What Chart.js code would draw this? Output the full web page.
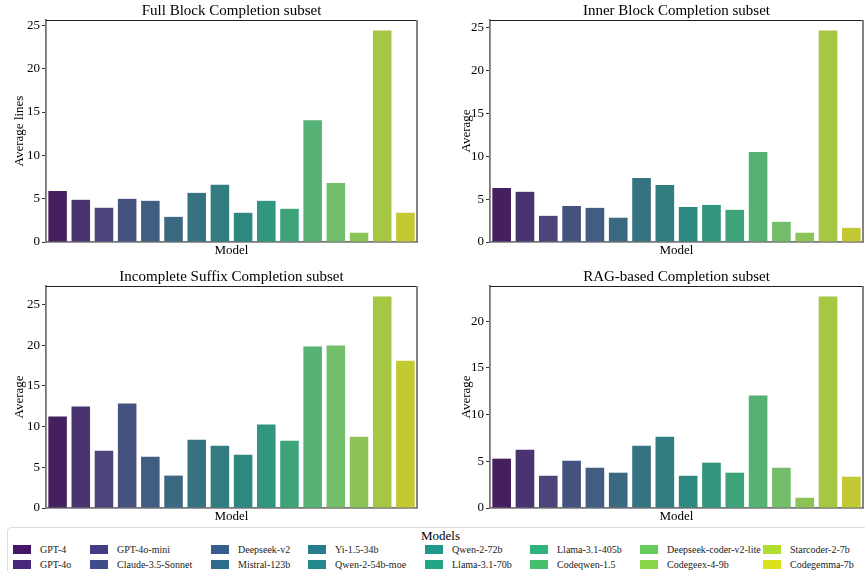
<!DOCTYPE html>
<html>
<head>
<meta charset="utf-8">
<script src="https://cdn.jsdelivr.net/npm/chart.js@4"></script>
<style>
  body { margin: 0; background: #fff; width: 865px; height: 571px; overflow: hidden; position: relative; font-family: 'Liberation Serif', 'Times New Roman', serif; }
  canvas { position: absolute; }
  #legend { position: absolute; left: 7px; top: 527px; width: 870px; height: 50px; border: 1px solid #ddd; border-radius: 4px; box-sizing: border-box; }
  #legend .ttl { position: absolute; left: 0; width: 865px; top: 0px; text-align: center; font-size: 13px; color: #000; }
  #legend .item { position: absolute; font-size: 10px; color: #222; white-space: nowrap; line-height: 12px; }
  #legend .sw { position: absolute; width: 18px; height: 9px; top: 1px; }
  #legend .lbl { position: absolute; left: 27px; top: 0; }
</style>
</head>
<body>
<canvas id="c1" width="430" height="258" style="left:0;top:0"></canvas>
<canvas id="c2" width="435" height="258" style="left:430px;top:0"></canvas>
<canvas id="c3" width="430" height="258" style="left:0;top:266px"></canvas>
<canvas id="c4" width="435" height="258" style="left:430px;top:266px"></canvas>
<div id="legend"><div class="ttl">Models</div></div>
<script>
// models, in plotting order
const models = ['GPT-4', 'GPT-4o', 'GPT-4o-mini', 'Claude-3.5-Sonnet', 'Deepseek-v2', 'Mistral-123b',
  'Yi-1.5-34b', 'Qwen-2-54b-moe', 'Qwen-2-72b', 'Llama-3.1-70b', 'Llama-3.1-405b', 'Codeqwen-1.5',
  'Deepseek-coder-v2-lite', 'Codegeex-4-9b', 'Starcoder-2-7b', 'Codegemma-7b'];

// average lines per subset
const fullBlock = [5.9, 4.87, 3.95, 4.98, 4.75, 2.9, 5.67, 6.6, 3.37, 4.75, 3.83, 14.05, 6.82, 1.07, 24.4, 3.37];
const innerBlock = [6.3, 5.85, 3.05, 4.2, 3.98, 2.83, 7.47, 6.66, 4.08, 4.32, 3.75, 10.5, 2.35, 1.08, 24.65, 1.65];
const incompleteSuffix = [11.23, 12.46, 7.05, 12.83, 6.3, 3.98, 8.4, 7.66, 6.55, 10.25, 8.27, 19.84, 19.96, 8.76, 25.98, 18.1];
const ragBased = [5.28, 6.24, 3.45, 5.06, 4.31, 3.78, 6.67, 7.63, 3.45, 4.85, 3.78, 12.03, 4.31, 1.1, 22.63, 3.35];

const titles = ['Full Block Completion subset', 'Inner Block Completion subset',
  'Incomplete Suffix Completion subset', 'RAG-based Completion subset'];
const yLabels = ['Average lines', 'Average', 'Average', 'Average'];

// viridis colormap anchors every 0.05
const viridis = ['#440154','#471365','#482475','#463480','#414487','#3b528b','#355f8d','#2f6c8e','#2a788e','#25848e',
  '#21918c','#1e9c89','#22a884','#2fb47c','#44bf70','#5ec962','#7ad151','#9bd93c','#bddf26','#dfe318','#fde725'];

function hex2rgb(h) { return [1,3,5].map(i => parseInt(h.slice(i, i+2), 16)); }
function cmap(t) {
  const p = t * 20, i = Math.min(19, Math.floor(p)), f = p - i;
  const a = hex2rgb(viridis[i]), b = hex2rgb(viridis[i+1]);
  return a.map((v, k) => v + (b[k] - v) * f);
}
// seaborn style desaturation (hls saturation * prop)
function desat(rgb, prop) {
  let [r, g, b] = rgb.map(v => v / 255);
  const mx = Math.max(r, g, b), mn = Math.min(r, g, b), l = (mx + mn) / 2;
  let h = 0, s = 0;
  if (mx !== mn) {
    const d = mx - mn;
    s = l > 0.5 ? d / (2 - mx - mn) : d / (mx + mn);
    if (mx === r) h = ((g - b) / d + (g < b ? 6 : 0)) / 6;
    else if (mx === g) h = ((b - r) / d + 2) / 6;
    else h = ((r - g) / d + 4) / 6;
  }
  s *= prop;
  function hue(p, q, t) {
    if (t < 0) t += 1; if (t > 1) t -= 1;
    if (t < 1/6) return p + (q - p) * 6 * t;
    if (t < 1/2) return q;
    if (t < 2/3) return p + (q - p) * (2/3 - t) * 6;
    return p;
  }
  const q = l < 0.5 ? l * (1 + s) : l + s - l * s, p = 2 * l - q;
  return [hue(p, q, h + 1/3), hue(p, q, h), hue(p, q, h - 1/3)].map(v => Math.round(v * 255));
}
const rgbStr = c => 'rgb(' + c.map(Math.round).join(',') + ')';
const legendColors = models.map((m, i) => rgbStr(cmap((i + 1) / 17)));
const barColors = models.map((m, i) => rgbStr(desat(cmap((i + 1) / 17), 0.75)));

const font = 'Liberation Serif';

const frame = {
  id: 'frame',
  afterDraw(chart) {
    const a = chart.chartArea, ctx = chart.ctx;
    ctx.save();
    ctx.strokeStyle = '#222';
    ctx.lineWidth = 1;
    ctx.beginPath();
    ctx.moveTo(a.left, a.top + 0.5); ctx.lineTo(a.right, a.top + 0.5);
    ctx.stroke();
    ctx.strokeStyle = '#777';
    ctx.lineWidth = 1.8;
    ctx.beginPath();
    ctx.moveTo(a.right, a.top); ctx.lineTo(a.right, a.bottom);
    ctx.stroke();
    ctx.restore();
  }
};

function makeChart(id, title, yLabel, values, yWidth, yTitlePad, padRight) {
  new Chart(document.getElementById(id), {
    type: 'bar',
    data: {
      labels: models,
      datasets: [{ data: values, backgroundColor: barColors, borderWidth: 0 }]
    },
    options: {
      responsive: false,
      animation: false,
      devicePixelRatio: 1,
      layout: { padding: { left: 0, right: padRight, top: 0, bottom: 0 } },
      datasets: { bar: { categoryPercentage: 0.8, barPercentage: 1 } },
      plugins: {
        legend: { display: false },
        tooltip: { enabled: false },
        title: {
          display: true, text: title, fullSize: false, color: '#000',
          font: { family: font, size: 15, weight: 'normal' },
          padding: { top: 2, bottom: 0 }
        }
      },
      scales: {
        x: {
          offset: true,
          grid: { display: false },
          border: { display: true, color: '#777', width: 1.8 },
          ticks: { display: false },
          title: { display: true, text: 'Model', color: '#000', font: { family: font, size: 13 }, padding: 0 },
          afterFit: s => { s.height = 16; }
        },
        y: {
          min: 0,
          max: Math.max(...values) * 1.05,
          ticks: { stepSize: 5, includeBounds: false, color: '#000', font: { family: font, size: 13 }, padding: 2 },
          grid: { drawOnChartArea: false, drawTicks: true, tickLength: 4, color: '#333' },
          border: { display: true, color: '#777', width: 1.8 },
          title: { display: true, text: yLabel, color: '#000', font: { family: font, size: 13 }, padding: { top: yTitlePad, bottom: 0 } },
          afterFit: s => { s.width = yWidth; }
        }
      }
    },
    plugins: [frame]
  });
}

makeChart('c1', titles[0], yLabels[0], fullBlock, 46, 12, 13);
makeChart('c2', titles[1], yLabels[1], innerBlock, 60, 29, 2);
makeChart('c3', titles[2], yLabels[2], incompleteSuffix, 46, 12, 13);
makeChart('c4', titles[3], yLabels[3], ragBased, 60, 29, 2);

// legend, column-major, 2 rows
const colX = [5, 82, 203, 300, 417, 522, 632, 755];
const legend = document.getElementById('legend');
models.forEach((m, i) => {
  const col = Math.floor(i / 2), row = i % 2;
  const d = document.createElement('div');
  d.className = 'item';
  d.style.left = colX[col] + 'px';
  d.style.top = (16 + row * 15) + 'px';
  d.innerHTML = '<span class="sw" style="background:' + legendColors[i] + '"></span><span class="lbl">' + m + '</span>';
  legend.appendChild(d);
});
</script>
</body>
</html>
